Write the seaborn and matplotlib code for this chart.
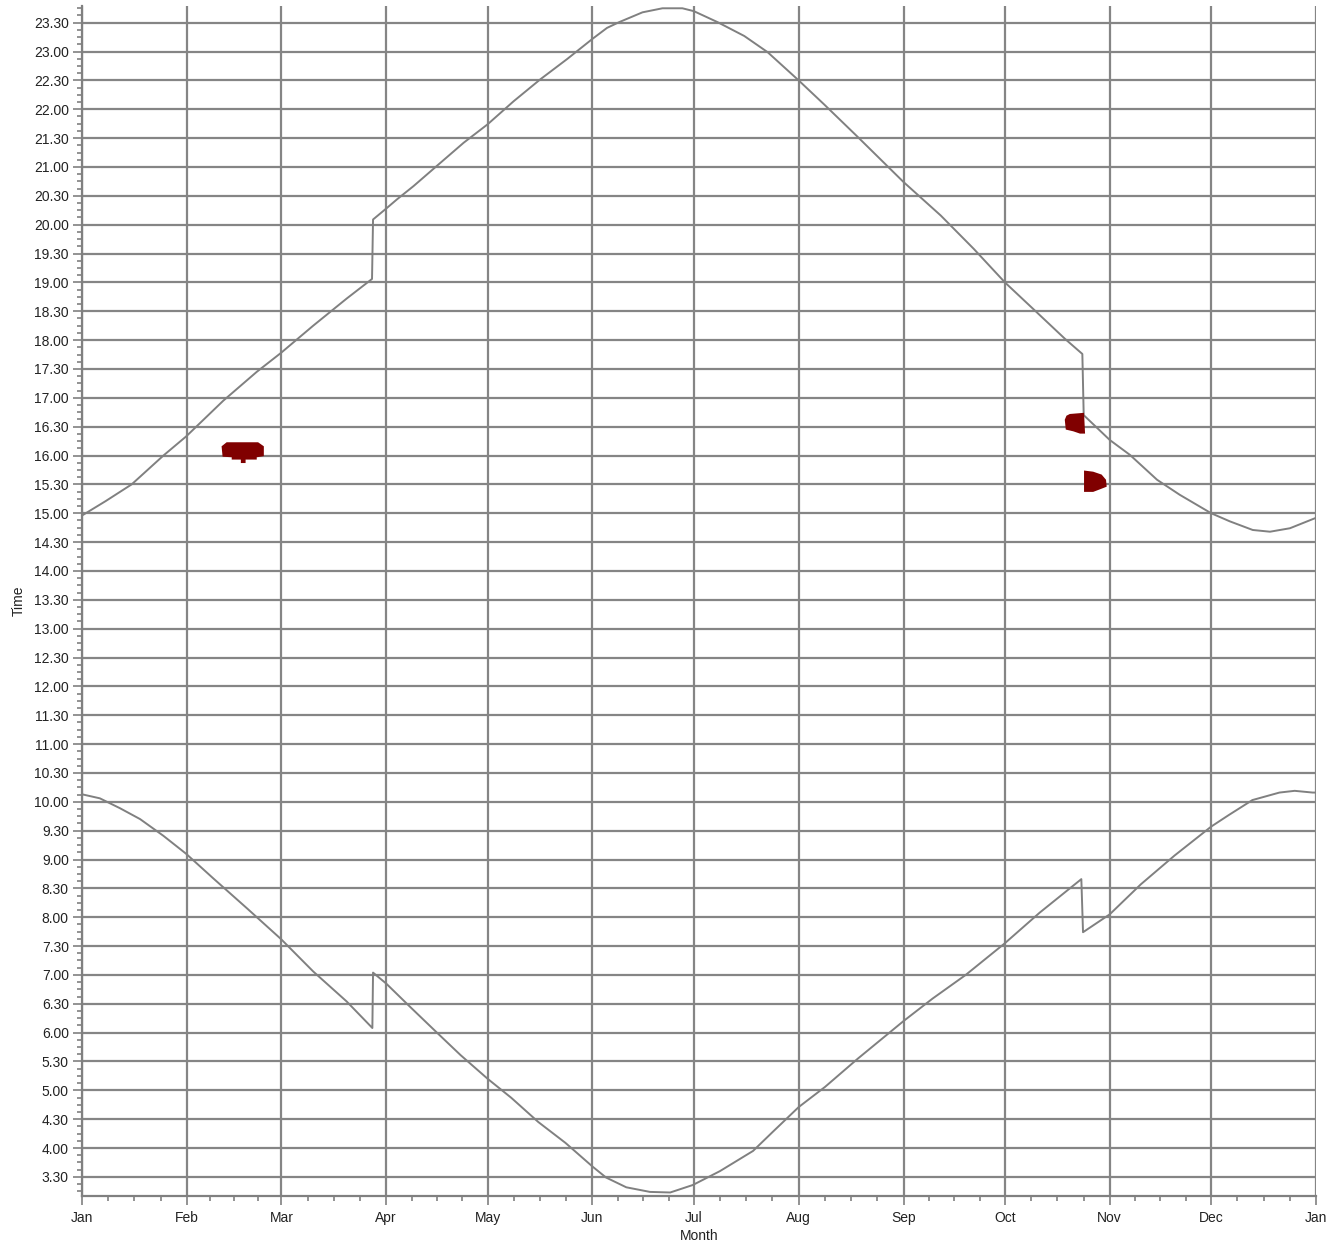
import numpy as np
import matplotlib
matplotlib.use("Agg")
import matplotlib.pyplot as plt
from matplotlib.ticker import FixedLocator, FuncFormatter, MultipleLocator
import seaborn as sns

sns.set_theme(style="ticks")
plt.rcParams['font.family'] = ['Liberation Sans', 'DejaVu Sans']

# day of year (0 = 1 Jan) and clock time in decimal hours
sunset_day = [0, 7, 14.7, 24.1, 30.8, 41.8, 51.7, 58.9, 68.4, 78.3, 85.8,
              86.1, 90, 93.2, 98.1, 105, 112.9, 120, 127.7, 135.6, 143.5,
              151, 155.3, 158.9, 165.8, 171.7, 177.6, 181, 188, 195.9, 202.8,
              212, 219.6, 229.3, 243, 254, 263.8, 273, 283, 290.8, 295.9,
              296.3, 304, 310, 318, 324.7, 334, 339.5, 346.3, 351.4, 357.3,
              363.7, 365]
sunset_time = [14.96, 15.21, 15.5, 16.0, 16.33, 16.95, 17.45, 17.78, 18.25, 18.72, 19.06,
               20.09, 20.28, 20.44, 20.67, 21.02, 21.42, 21.74, 22.14, 22.52, 22.87,
               23.22, 23.41, 23.51, 23.68, 23.75, 23.75, 23.70, 23.51, 23.27, 22.99,
               22.5, 22.08, 21.53, 20.74, 20.16, 19.58, 19.0, 18.45, 18.02, 17.76,
               16.70, 16.27, 16.01, 15.58, 15.32, 15.0, 14.86, 14.71, 14.68, 14.74,
               14.89, 14.92]

sunrise_day = [0, 5.3, 11.2, 17.2, 24.1, 30.8, 38.9, 48.7, 58.9, 68.4, 78.3, 85.9,
               86.1, 90, 97, 105, 112, 120, 127, 135, 143, 151, 155, 161, 168,
               174, 180.7, 188.7, 198.5, 204.5, 212, 219.8, 229.5, 243, 251.6,
               261.4, 273, 283.3, 295.6, 296.1, 304, 313.2, 323.2, 334, 339.2,
               346.2, 354.2, 358.7, 364, 365]
sunrise_time = [10.13, 10.06, 9.89, 9.70, 9.41, 9.10, 8.67, 8.16, 7.62, 7.06, 6.54, 6.08,
                7.04, 6.85, 6.45, 6.0, 5.61, 5.2, 4.87, 4.45, 4.09, 3.68, 3.49, 3.32, 3.24,
                3.23, 3.36, 3.6, 3.95, 4.29, 4.71, 5.06, 5.55, 6.2, 6.59,
                7.0, 7.55, 8.08, 8.66, 7.74, 8.05, 8.57, 9.07, 9.57, 9.77,
                10.03, 10.16, 10.19, 10.16, 10.16]

month_labels = ['Jan', 'Feb', 'Mar', 'Apr', 'May', 'Jun', 'Jul',
                'Aug', 'Sep', 'Oct', 'Nov', 'Dec', 'Jan']
month_days = [31, 28, 31, 30, 31, 30, 31, 31, 30, 31, 30, 31]

# dark red patches (outline in day / hour)
patch1_day = [42.8, 52.1, 53.8, 53.8, 51.7, 51.7, 48.4, 48.4, 47.0, 47.0, 44.3, 44.3, 41.6, 41.3]
patch1_time = [16.23, 16.23, 16.16, 15.99, 15.97, 15.93, 15.93, 15.87, 15.87, 15.93, 15.93, 15.97, 15.98, 16.16]
patch2_day = [292.2, 296.4, 296.7, 295.2, 293.2, 291.0, 290.7, 291.2]
patch2_time = [16.72, 16.74, 16.38, 16.38, 16.42, 16.45, 16.62, 16.69]
patch3_day = [296.4, 299.1, 301.6, 302.9, 303.1, 300.9, 299.1, 296.4]
patch3_time = [15.74, 15.72, 15.67, 15.58, 15.46, 15.41, 15.37, 15.37]

grey = '#808080'

fig = plt.figure(figsize=(13.39, 12.45), dpi=100)
ax = fig.add_axes([0.0612, 0.0394, 0.9216, 0.9558])

for days, times in [(sunset_day, sunset_time), (sunrise_day, sunrise_time)]:
    sns.lineplot(x=days, y=times, sort=False, estimator=None,
                 color=grey, lw=1.4, ax=ax, zorder=3)

for days, times in [(patch1_day, patch1_time), (patch2_day, patch2_time), (patch3_day, patch3_time)]:
    ax.fill(days, times, color='#800000', lw=0, zorder=4)

ax.set_xlim(0, 365)
ax.set_ylim(3.17, 23.79)

# month ticks with quarter-month minor ticks
month_start = np.concatenate([[0], np.cumsum(month_days)])
minor_x = [s + k * n / 4 for s, n in zip(month_start[:-1], month_days) for k in (1, 2, 3)]
ax.xaxis.set_major_locator(FixedLocator(month_start))
ax.xaxis.set_minor_locator(FixedLocator(minor_x))
ax.set_xticklabels(month_labels)

ax.yaxis.set_major_locator(MultipleLocator(0.5))
ax.yaxis.set_minor_locator(MultipleLocator(0.125))


def hour_label(v, pos):
    h = int(v)
    m = int(round((v - h) * 60))
    return f"{h}.{m:02d}"


ax.yaxis.set_major_formatter(FuncFormatter(hour_label))

ax.set_axisbelow(True)
ax.grid(True, which='major', color='#858585', lw=1.6)
ax.grid(False, which='minor')

for side in ['top', 'right']:
    ax.spines[side].set_visible(False)
for side in ['left', 'bottom']:
    ax.spines[side].set_color(grey)
    ax.spines[side].set_linewidth(1.6)

ax.tick_params(which='major', length=6.5, width=1.2, color=grey,
               labelsize=10, labelcolor='#222222', pad=3)
ax.tick_params(axis='x', which='major', pad=4.5)
ax.tick_params(which='minor', length=3.5, width=1.2, color=grey)

ax.set_ylabel('Time', fontsize=10, color='#222222', labelpad=6)
ax.set_xlabel('Month', fontsize=10, color='#222222', labelpad=2.5)

fig.savefig('out.png', dpi=100)
